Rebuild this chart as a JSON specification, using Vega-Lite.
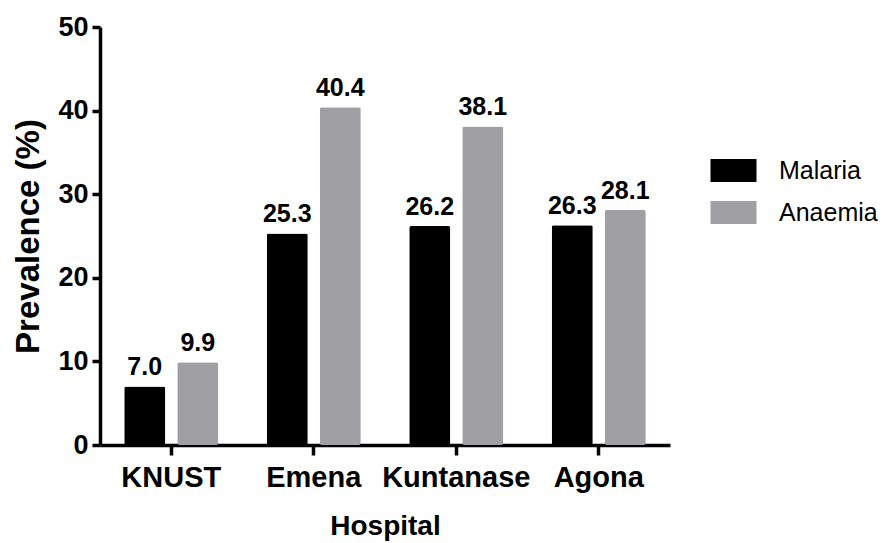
{
  "$schema": "https://vega.github.io/schema/vega-lite/v6.json",
  "autosize": {"type": "none"},
  "padding": {"left": 100, "top": 27, "right": 214, "bottom": 98},
  "width": 570,
  "height": 418,
  "background": "white",
  "config": {
    "view": {"stroke": null},
    "font": "Liberation Sans",
    "axis": {"grid": false, "domainColor": "black", "domainWidth": 3.5, "tickColor": "black", "tickWidth": 3.5, "labelColor": "black", "titleColor": "black", "labelFont": "Liberation Sans", "titleFont": "Liberation Sans", "labelFontWeight": "bold", "titleFontWeight": "bold"}
  },
  "data": {
    "values": [
      {"hospital": "KNUST", "condition": "Malaria", "prevalence": 7.0},
      {"hospital": "KNUST", "condition": "Anaemia", "prevalence": 9.9},
      {"hospital": "Emena", "condition": "Malaria", "prevalence": 25.3},
      {"hospital": "Emena", "condition": "Anaemia", "prevalence": 40.4},
      {"hospital": "Kuntanase", "condition": "Malaria", "prevalence": 26.2},
      {"hospital": "Kuntanase", "condition": "Anaemia", "prevalence": 38.1},
      {"hospital": "Agona", "condition": "Malaria", "prevalence": 26.3},
      {"hospital": "Agona", "condition": "Anaemia", "prevalence": 28.1}
    ]
  },
  "encoding": {
    "x": {
      "field": "hospital", "type": "nominal",
      "sort": ["KNUST", "Emena", "Kuntanase", "Agona"],
      "scale": {"paddingInner": 0.34, "paddingOuter": 0.17},
      "axis": {"title": "Hospital", "labelAngle": 0, "labelFontSize": 29, "titleFontSize": 28, "tickSize": 10, "labelPadding": 8, "titlePadding": 20}
    },
    "xOffset": {
      "field": "condition", "type": "nominal",
      "sort": ["Malaria", "Anaemia"],
      "scale": {"paddingInner": 0.226, "paddingOuter": 0}
    },
    "y": {
      "field": "prevalence", "type": "quantitative",
      "scale": {"domain": [0, 50], "nice": false},
      "axis": {"title": "Prevalence (%)", "values": [0, 10, 20, 30, 40, 50], "labelFontSize": 27, "titleFontSize": 33, "tickSize": 8, "labelPadding": 4, "titlePadding": 12}
    }
  },
  "layer": [
    {
      "mark": {"type": "bar", "cornerRadius": 2},
      "encoding": {
        "color": {
          "field": "condition", "type": "nominal",
          "scale": {"domain": ["Malaria", "Anaemia"], "range": ["#000000", "#a0a0a4"]},
          "legend": {
            "title": null, "orient": "none", "legendX": 621, "legendY": 131,
            "symbolType": "M-2,-1H2V1H-2Z", "symbolSize": 529, "symbolStrokeWidth": 0,
            "labelFontSize": 25, "labelColor": "black", "labelOffset": 33, "rowPadding": 16, "labelFont": "Liberation Sans"
          }
        }
      }
    },
    {
      "mark": {"type": "text", "baseline": "alphabetic", "dy": -11, "fontSize": 25, "fontWeight": "bold", "font": "Liberation Sans", "color": "black"},
      "encoding": {
        "text": {"field": "prevalence", "type": "quantitative", "format": ".1f"}
      }
    }
  ]
}
